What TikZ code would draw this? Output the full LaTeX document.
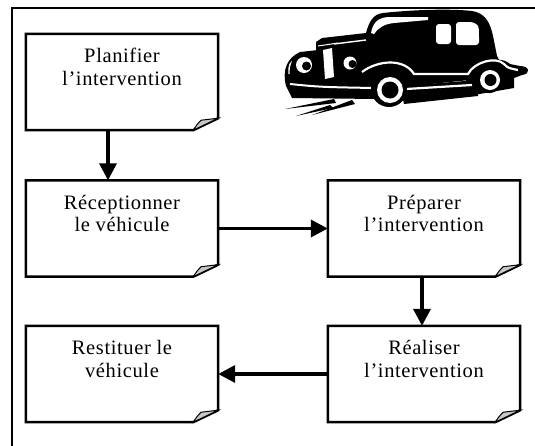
\documentclass[tikz,border=0pt]{standalone}
\usepackage{fontspec}
\setmainfont{Liberation Serif}[LetterSpace=3]
\usetikzlibrary{arrows.meta}
\tikzset{
  stepbox/.style={draw=none, minimum width=192pt, minimum height=96pt, inner sep=0pt},
  steptext/.style={align=center, font=\fontsize{20.5}{22.5}\selectfont, inner sep=0pt},
  boxline/.style={line width=2.5pt, line join=miter},
  foldcorner/.style={fill=black!22, draw=black, line width=1pt},
  flow/.style={line width=3.5pt, -{Triangle[length=17pt,width=17pt]}},
  frameline/.style={line width=2.8pt},
}
\newcommand{\foldbox}[1]{%
  \draw[boxline] (#1.north west) -- (#1.north east) -- ([yshift=12pt]#1.south east)
    -- ([xshift=-25pt]#1.south east) -- (#1.south west) -- cycle;
  \filldraw[foldcorner] ([xshift=-25pt]#1.south east)
    .. controls ([xshift=-21pt,yshift=6pt]#1.south east) .. ([xshift=-17pt,yshift=10pt]#1.south east)
    -- ([yshift=12pt]#1.south east) -- cycle;
}
\begin{document}
\begin{tikzpicture}[x=1pt,y=-1pt]
\useasboundingbox (0,0) rectangle (535,445);
\fill[white] (0,0) rectangle (535,445);
\draw[frameline] (12,446) -- (12,8) -- (536,8);

% boxes
\node[stepbox] (p1) at (122,82) {};
\node[stepbox] (p2) at (122,228.5) {};
\node[stepbox] (p3) at (424,228.5) {};
\node[stepbox] (p4) at (424,374) {};
\node[stepbox] (p5) at (122,374) {};
\foldbox{p1}\foldbox{p2}\foldbox{p3}\foldbox{p4}\foldbox{p5}

\node[steptext] (t1) at ([yshift=15pt]p1.center) {Planifier\\l’intervention};
\node[steptext] (t2) at ([yshift=15pt]p2.center) {Réceptionner\\le véhicule};
\node[steptext] (t3) at ([yshift=15pt]p3.center) {Préparer\\l’intervention};
\node[steptext] (t4) at ([yshift=15pt]p4.center) {Réaliser\\l’intervention};
\node[steptext] (t5) at ([yshift=15pt]p5.center) {Restituer le\\véhicule};

% connectors
\draw[flow] ([xshift=-14pt]p1.south) -- ([xshift=-14pt]p2.north);
\draw[flow] (p2.east) -- (p3.west);
\draw[flow] ([xshift=-2pt]p3.south) -- ([xshift=-2pt]p4.north);
\draw[flow] (p4.west) -- (p5.east);

% car
\begin{scope}
% cabin and body
\fill[black] (316,42) -- (322,38) -- (366,33) .. controls (369,22) and (373,14) .. (383,13)
  .. controls (420,9) and (455,9) .. (472,11) .. controls (485,13) and (490,22) .. (493,36)
  -- (497,56) .. controls (500,62) .. (508,64) -- (470,80) -- (410,86) -- (335,86) -- (316,76) -- cycle;
% front fender and bumper
\fill[black] (286,86) .. controls (282,70) and (287,58) .. (300,52) -- (318,50) -- (340,54)
  -- (372,66) .. controls (384,60) and (404,60) .. (414,76) -- (414,92) -- (376,99) -- (292,98) -- cycle;
% rear fender and tail
\fill[black] (466,80) .. controls (470,62) and (500,54) .. (510,64) -- (520,66)
  .. controls (530,66) and (531,74) .. (522,75) -- (514,78) -- (514,88) -- (468,96) -- (466,90) -- cycle;
% running board
\fill[black] (400,86) -- (478,80) -- (478,96) -- (404,104) -- cycle;
% white details
\fill[white] (371,33) .. controls (373,23) and (377,18) .. (388,17) -- (428,17) -- (428,20)
  -- (394,23) .. controls (384,24) and (378,28) .. (374,34) -- cycle;
\draw[white, line width=1.4pt] (334,44) -- (366,40);
\draw[white, line width=1pt] (318,46) -- (338,43);
\fill[white, rounded corners=3pt] (436,24) rectangle (451,44);
\fill[white, rounded corners=3pt] (456,22) -- (473,22) .. controls (479,26) .. (479,45) -- (456,45) -- cycle;
\fill[white] (323,50) -- (332,48) -- (334,77) -- (325,79) -- cycle;
\draw[white, line width=2pt] (290,84) .. controls (320,87) .. (374,88);
\draw[white, line width=2.2pt] (362,72) .. controls (378,60) and (404,58) .. (414,74)
  -- (468,74) .. controls (474,62) and (496,56) .. (504,64) .. controls (508,68) .. (518,70);
\draw[white, line width=2.2pt] (406,89) -- (472,85);
\draw[white, line width=1.4pt] (289,74) .. controls (289,64) .. (297,57);
% headlamps
\fill[black] (303,65) circle (12);
\fill[white] (304,65) circle (8);
\fill[black] (306.5,66) circle (4.5);
\fill[black] (350,63) circle (10);
\fill[white] (350,63) circle (6.5);
\fill[black] (352.5,64) circle (4);
% wheels
\fill[black] (389,89) circle (18);
\fill[white] (390,90) circle (13);
\fill[black] (390,90) circle (8.5);
\fill[black] (489,79) circle (14);
\fill[white] (490,80) circle (10);
\fill[black] (490.5,80) circle (6);
% speed lines
\fill[black] (285,109) -- (334,99) -- (336,103) -- cycle;
\fill[black] (296,116) -- (330,105) -- (333,108) -- cycle;
\fill[black] (312,115) -- (352,100) -- (355,104) -- cycle;
\end{scope}
\end{tikzpicture}
\end{document}
